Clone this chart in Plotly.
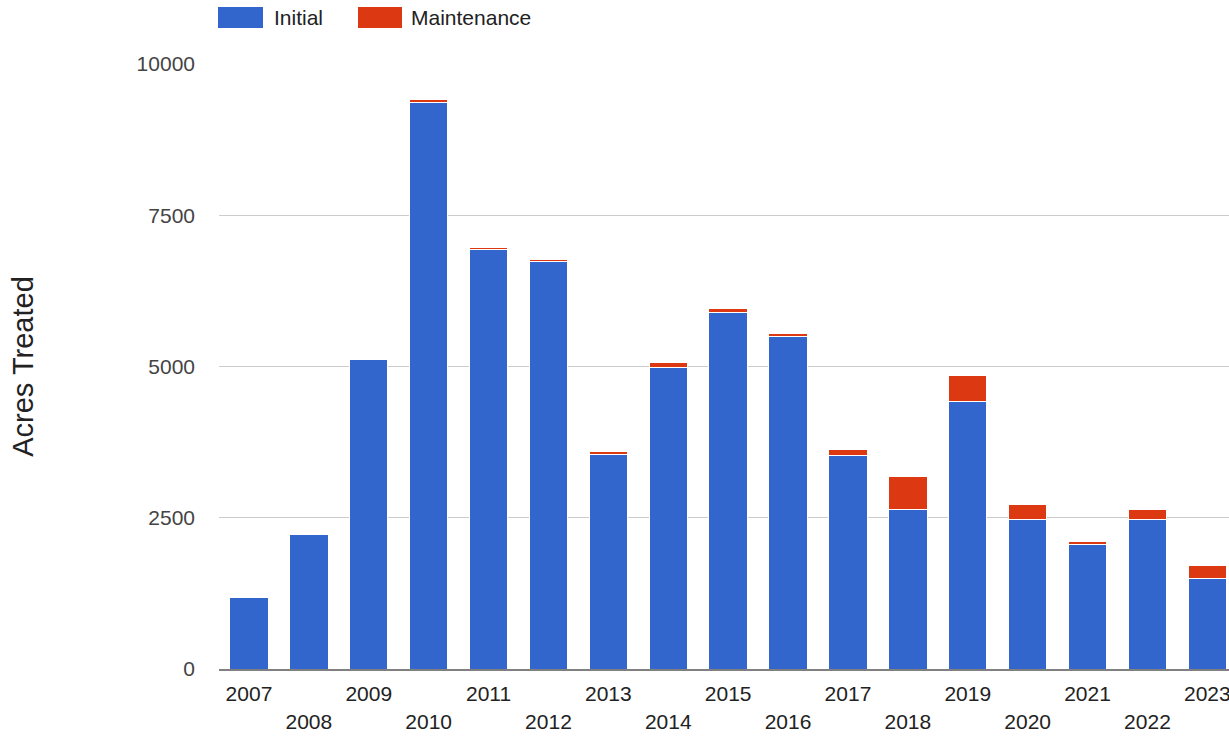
import plotly.graph_objects as go

years = [str(y) for y in range(2007, 2024)]
initial = [1190, 2215, 5110, 9370, 6930, 6740, 3540, 4990, 5900, 5490,
           3530, 2640, 4425, 2470, 2060, 2470, 1500]
maintenance = [0, 0, 30, 40, 35, 25, 60, 80, 55, 55,
               90, 545, 430, 255, 45, 160, 210]
y_ticks = [0, 2500, 5000, 7500, 10000]
series_names = ["Initial", "Maintenance"]
series_colors = ["#3366cc", "#dc3912"]

tick_text = [y if i % 2 == 0 else "<br>" + y for i, y in enumerate(years)]

W, H = 1229, 736
L, R, T = 219, 0, 64
plot_h = 605
B = H - T - plot_h
FONT = "Arial, Liberation Sans, sans-serif"

fig = go.Figure()
for name, vals, col in zip(series_names, [initial, maintenance], series_colors):
    fig.add_trace(go.Bar(
        x=years, y=vals, name=name,
        marker=dict(color=col, line=dict(color="white", width=1)),
        showlegend=False,
    ))

fig.update_layout(
    width=W, height=H,
    margin=dict(l=L, r=R, t=T, b=B, autoexpand=False),
    barmode="stack", bargap=0.36,
    plot_bgcolor="white", paper_bgcolor="white",
    font=dict(family=FONT, size=21, color="#222222"),
)

plot_w = W - L - R
step = 59.9
fig.update_xaxes(
    type="category",
    range=[-0.5, -0.5 + plot_w / step],
    tickvals=years, ticktext=tick_text,
    tickfont=dict(size=21, color="#222222"),
    showgrid=False, showline=True, linecolor="#808080", linewidth=2,
    ticks="", ticklabelstandoff=5,
    automargin=False,
)
fig.update_yaxes(
    range=[0, 10000],
    tickvals=y_ticks, ticktext=[str(v) for v in y_ticks],
    tickfont=dict(size=21, color="#444444"),
    showgrid=True, gridcolor="#cccccc", gridwidth=1,
    zeroline=False, showline=False, ticks="",
    ticklabelstandoff=23,
    title=dict(text="Acres Treated", font=dict(size=29, color="#222222"), standoff=94),
    automargin=False,
)

# custom legend (pixel geometry converted to paper coords)
def px(xp):
    return (xp - L) / plot_w
def py(yp):
    return (T + plot_h - yp) / plot_h

legend_items = [(218, 263, 273), (358, 402, 410)]
for (x0, x1, tx), name, col in zip(legend_items, series_names, series_colors):
    fig.add_shape(type="rect", xref="paper", yref="paper",
                  x0=px(x0), x1=px(x1), y0=py(28), y1=py(7),
                  fillcolor=col, line=dict(width=0))
    fig.add_annotation(xref="paper", yref="paper", x=px(tx), y=py(17.5),
                       text=name, showarrow=False, xanchor="left", yanchor="middle",
                       borderpad=0,
                       font=dict(size=21, color="#222222"))

fig.write_html("out.html",
               config={"displayModeBar": False},
               post_script="document.body.style.margin='0';document.body.style.overflow='hidden';")
